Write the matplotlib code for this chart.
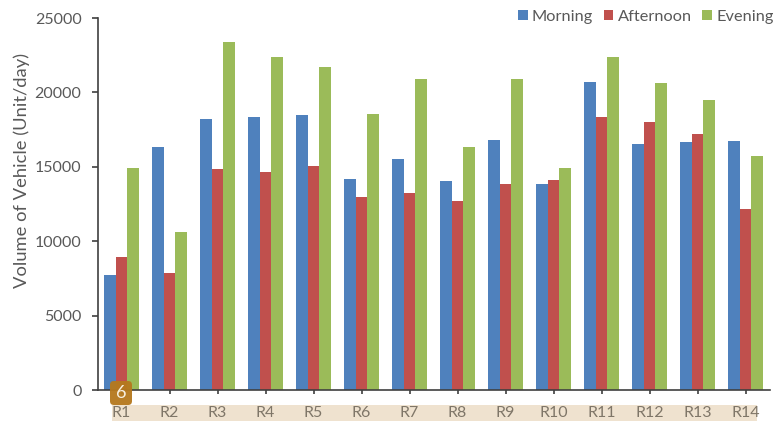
import matplotlib
matplotlib.use("Agg")
import matplotlib.pyplot as plt
from matplotlib.patches import FancyBboxPatch, Rectangle
import numpy as np

plt.rcParams['font.family'] = ['Lato', 'DejaVu Sans']

routes = ["R1", "R2", "R3", "R4", "R5", "R6", "R7", "R8", "R9", "R10", "R11", "R12", "R13", "R14"]
morning = [7750, 16300, 18200, 18350, 18450, 14200, 15500, 14050, 16800, 13850, 20700, 16550, 16700, 16750]
afternoon = [8950, 7850, 14850, 14650, 15050, 13000, 13250, 12700, 13850, 14100, 18350, 18000, 17200, 12150]
evening = [14900, 10600, 23400, 22400, 21700, 18550, 20900, 16300, 20900, 14950, 22400, 20600, 19500, 15700]
yticks = [0, 5000, 10000, 15000, 20000, 25000]

grey = "#595959"
W, H = 774, 421

fig = plt.figure(figsize=(W / 100, H / 100), dpi=100)
ax = fig.add_axes([97.5 / W, 1 - 390 / H, 672 / W, 372 / H])

x = np.arange(len(routes))
bw = 0.24
ax.bar(x - bw, morning, bw, color="#4f81bd", label="Morning")
ax.bar(x, afternoon, bw, color="#c0504d", label="Afternoon")
ax.bar(x + bw, evening, bw, color="#9bbb59", label="Evening")

ax.set_xlim(-0.5, 13.5)
ax.set_ylim(0, 25000)
ax.set_yticks(yticks)
ax.set_xticks(x)
ax.set_xticklabels([])
ax.tick_params(axis="y", direction="out", length=4.5, width=1.2, color="#404040",
               labelsize=11.5, labelcolor=grey, pad=7)
ax.tick_params(axis="x", direction="out", length=3, width=1.2, color="#404040")
for s in ["top", "right"]:
    ax.spines[s].set_visible(False)
for s in ["left", "bottom"]:
    ax.spines[s].set_color("#404040")
    ax.spines[s].set_linewidth(1.2)

fig.text(22 / W, 1 - 170 / H, "Volume of Vehicle (Unit/day)", rotation=90, ha="center", va="center",
         fontsize=13.2, color=grey)

ax.legend(loc="upper right", bbox_to_anchor=(1.028, 1.061), ncol=3, frameon=False,
          fontsize=11.8, labelcolor=grey, handlelength=0.6, handleheight=0.6,
          handletextpad=0.25, columnspacing=0.65)

# tan strip behind the route names
fig.add_artist(Rectangle((112 / W, 1 - 421 / H), 645 / W, 16 / H, transform=fig.transFigure,
                         facecolor="#efe2cf", edgecolor="none", zorder=-1))
for i, r in enumerate(routes):
    ax.annotate(r, (x[i], 0), xytext=(0, -16.5), xycoords=("data", "axes fraction"),
                textcoords="offset points", ha="center", va="center",
                fontsize=11.5, color="#7f7668", zorder=5, annotation_clip=False)

# numbered badge over the first tick
fig.add_artist(FancyBboxPatch((110 / W, 1 - 405 / H), 22 / W, 24 / H, transform=fig.transFigure,
                              boxstyle="round,pad=0,rounding_size=0.005", mutation_aspect=W / H,
                              facecolor="#b5791f", edgecolor="none", alpha=0.96))
fig.text(121 / W, 1 - 393 / H, "6", ha="center", va="center", fontsize=13, color="#f7f0e2")

fig.savefig("out.png", dpi=100)
